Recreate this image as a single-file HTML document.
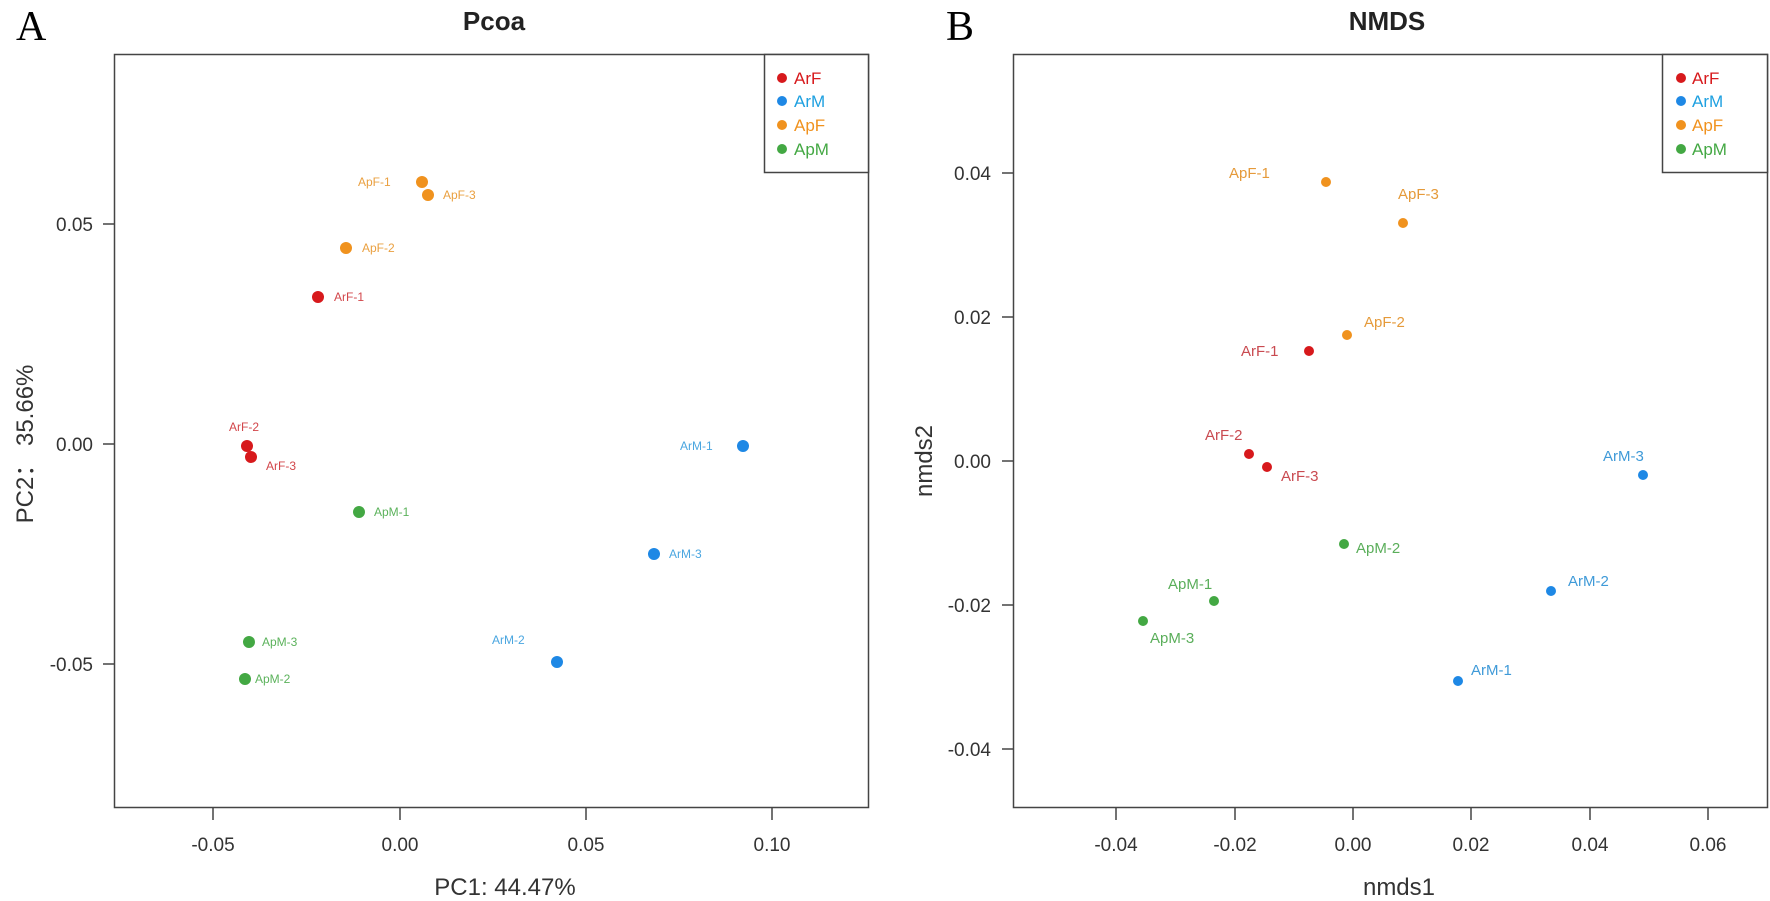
<!DOCTYPE html>
<html><head><meta charset="utf-8"><style>
html,body{margin:0;padding:0;background:#fff;}
svg{display:block;font-family:"Liberation Sans",Arial,sans-serif;}
</style></head><body>
<svg width="1770" height="901" viewBox="0 0 1770 901" xmlns="http://www.w3.org/2000/svg">
<!-- Panel A -->
<text x="16" y="40" font-family="Liberation Serif,serif" font-size="42">A</text>
<text x="494" y="30" font-size="26" font-weight="bold" text-anchor="middle" fill="#222">Pcoa</text>
<rect x="114.5" y="54.5" width="754" height="753" fill="none" stroke="#444" stroke-width="1.5"/>
<g stroke="#444" stroke-width="1.5">
<line x1="103" y1="224" x2="114" y2="224"/><line x1="103" y1="444" x2="114" y2="444"/><line x1="103" y1="664" x2="114" y2="664"/>
<line x1="213" y1="808" x2="213" y2="820"/><line x1="400" y1="808" x2="400" y2="820"/><line x1="586" y1="808" x2="586" y2="820"/><line x1="772" y1="808" x2="772" y2="820"/>
</g>
<g font-size="19" fill="#333" text-anchor="end">
<text x="93" y="231">0.05</text><text x="93" y="451">0.00</text><text x="93" y="671">-0.05</text>
</g>
<g font-size="19" fill="#333" text-anchor="middle">
<text x="213" y="851">-0.05</text><text x="400" y="851">0.00</text><text x="586" y="851">0.05</text><text x="772" y="851">0.10</text>
</g>
<text x="505" y="895" font-size="24" fill="#333" text-anchor="middle">PC1: 44.47%</text>
<text transform="translate(33,444) rotate(-90)" font-size="24" fill="#333" text-anchor="middle">PC2： 35.66%</text>
<rect x="764.5" y="54.5" width="104" height="118" fill="#fff" stroke="#444" stroke-width="1.5"/>
<g font-size="17">
<circle cx="782" cy="78" r="5" fill="#d7191c"/><text x="794" y="84" fill="#d7191c">ArF</text>
<circle cx="782" cy="101" r="5" fill="#1e88e5"/><text x="794" y="107" fill="#1ea0e0">ArM</text>
<circle cx="782" cy="125" r="5" fill="#f0921e"/><text x="794" y="131" fill="#f0921e">ApF</text>
<circle cx="782" cy="149" r="5" fill="#43a843"/><text x="794" y="155" fill="#43a843">ApM</text>
</g>
<g>
<circle cx="318" cy="297" r="6" fill="#d7191c"/><circle cx="247" cy="446" r="6" fill="#d7191c"/><circle cx="251" cy="457" r="6" fill="#d7191c"/>
<circle cx="422" cy="182" r="6" fill="#f0921e"/><circle cx="428" cy="195" r="6" fill="#f0921e"/><circle cx="346" cy="248" r="6" fill="#f0921e"/>
<circle cx="359" cy="512" r="6" fill="#43a843"/><circle cx="249" cy="642" r="6" fill="#43a843"/><circle cx="245" cy="679" r="6" fill="#43a843"/>
<circle cx="743" cy="446" r="6" fill="#1e88e5"/><circle cx="654" cy="554" r="6" fill="#1e88e5"/><circle cx="557" cy="662" r="6" fill="#1e88e5"/>
</g>
<g font-size="12">
<text x="334" y="301" fill="#d2464a">ArF-1</text>
<text x="229" y="431" fill="#d2464a">ArF-2</text>
<text x="266" y="470" fill="#d2464a">ArF-3</text>
<text x="358" y="186" fill="#eaa040">ApF-1</text>
<text x="443" y="199" fill="#eaa040">ApF-3</text>
<text x="362" y="252" fill="#eaa040">ApF-2</text>
<text x="374" y="516" fill="#5bb25b">ApM-1</text>
<text x="262" y="646" fill="#5bb25b">ApM-3</text>
<text x="255" y="683" fill="#5bb25b">ApM-2</text>
<text x="680" y="450" fill="#4aa6e0">ArM-1</text>
<text x="669" y="558" fill="#4aa6e0">ArM-3</text>
<text x="492" y="644" fill="#4aa6e0">ArM-2</text>
</g>
<!-- Panel B -->
<text x="946" y="40" font-family="Liberation Serif,serif" font-size="42">B</text>
<text x="1387" y="30" font-size="26" font-weight="bold" text-anchor="middle" fill="#222">NMDS</text>
<rect x="1013.5" y="54.5" width="754" height="753" fill="none" stroke="#444" stroke-width="1.5"/>
<g stroke="#444" stroke-width="1.5">
<line x1="1002" y1="173" x2="1013" y2="173"/><line x1="1002" y1="317" x2="1013" y2="317"/><line x1="1002" y1="461" x2="1013" y2="461"/><line x1="1002" y1="605" x2="1013" y2="605"/><line x1="1002" y1="749" x2="1013" y2="749"/>
<line x1="1116" y1="808" x2="1116" y2="820"/><line x1="1235" y1="808" x2="1235" y2="820"/><line x1="1353" y1="808" x2="1353" y2="820"/><line x1="1471" y1="808" x2="1471" y2="820"/><line x1="1590" y1="808" x2="1590" y2="820"/><line x1="1708" y1="808" x2="1708" y2="820"/>
</g>
<g font-size="19" fill="#333" text-anchor="end">
<text x="991" y="180">0.04</text><text x="991" y="324">0.02</text><text x="991" y="468">0.00</text><text x="991" y="612">-0.02</text><text x="991" y="756">-0.04</text>
</g>
<g font-size="19" fill="#333" text-anchor="middle">
<text x="1116" y="851">-0.04</text><text x="1235" y="851">-0.02</text><text x="1353" y="851">0.00</text><text x="1471" y="851">0.02</text><text x="1590" y="851">0.04</text><text x="1708" y="851">0.06</text>
</g>
<text x="1399" y="895" font-size="24" fill="#333" text-anchor="middle">nmds1</text>
<text transform="translate(932,461) rotate(-90)" font-size="24" fill="#333" text-anchor="middle">nmds2</text>
<rect x="1662.5" y="54.5" width="105" height="118" fill="#fff" stroke="#444" stroke-width="1.5"/>
<g font-size="17">
<circle cx="1681" cy="78" r="5" fill="#d7191c"/><text x="1692" y="84" fill="#d7191c">ArF</text>
<circle cx="1681" cy="101" r="5" fill="#1e88e5"/><text x="1692" y="107" fill="#1ea0e0">ArM</text>
<circle cx="1681" cy="125" r="5" fill="#f0921e"/><text x="1692" y="131" fill="#f0921e">ApF</text>
<circle cx="1681" cy="149" r="5" fill="#43a843"/><text x="1692" y="155" fill="#43a843">ApM</text>
</g>
<g>
<circle cx="1326" cy="182" r="5" fill="#f0921e"/><circle cx="1403" cy="223" r="5" fill="#f0921e"/><circle cx="1347" cy="335" r="5" fill="#f0921e"/>
<circle cx="1309" cy="351" r="5" fill="#d7191c"/><circle cx="1249" cy="454" r="5" fill="#d7191c"/><circle cx="1267" cy="467" r="5" fill="#d7191c"/>
<circle cx="1643" cy="475" r="5" fill="#1e88e5"/><circle cx="1551" cy="591" r="5" fill="#1e88e5"/><circle cx="1458" cy="681" r="5" fill="#1e88e5"/>
<circle cx="1344" cy="544" r="5" fill="#43a843"/><circle cx="1214" cy="601" r="5" fill="#43a843"/><circle cx="1143" cy="621" r="5" fill="#43a843"/>
</g>
<g font-size="15">
<text x="1229" y="178" fill="#e59a3a">ApF-1</text>
<text x="1398" y="199" fill="#e59a3a">ApF-3</text>
<text x="1364" y="327" fill="#e59a3a">ApF-2</text>
<text x="1241" y="356" fill="#c94a50">ArF-1</text>
<text x="1205" y="440" fill="#c94a50">ArF-2</text>
<text x="1281" y="481" fill="#c94a50">ArF-3</text>
<text x="1603" y="461" fill="#3f9ad8">ArM-3</text>
<text x="1356" y="553" fill="#5aae5a">ApM-2</text>
<text x="1568" y="586" fill="#3f9ad8">ArM-2</text>
<text x="1168" y="589" fill="#5aae5a">ApM-1</text>
<text x="1150" y="643" fill="#5aae5a">ApM-3</text>
<text x="1471" y="675" fill="#3f9ad8">ArM-1</text>
</g>
</svg>
</body></html>
